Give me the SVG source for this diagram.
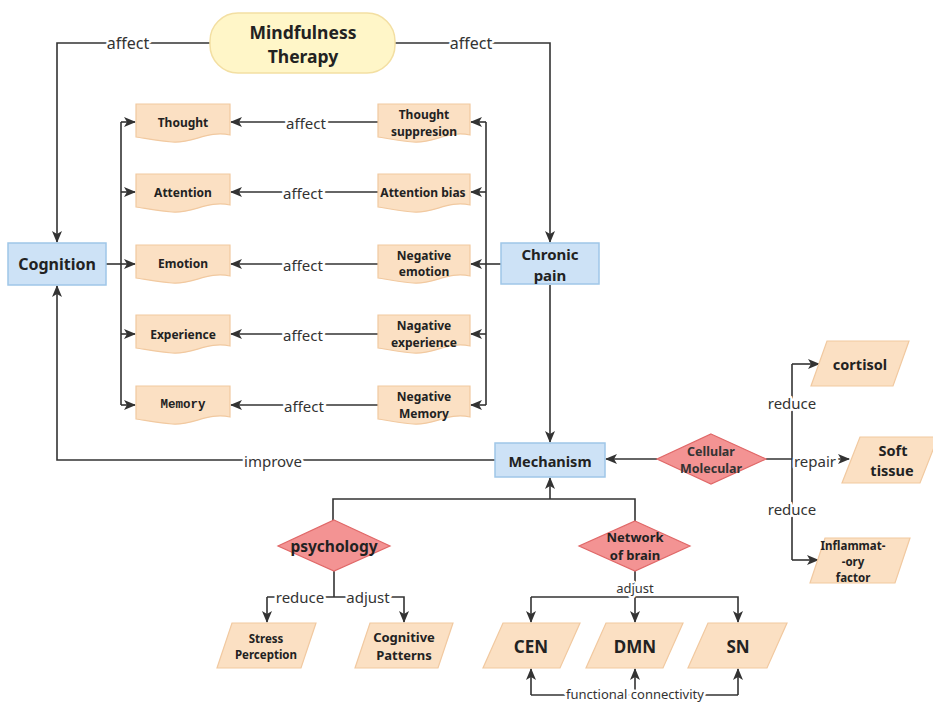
<svg xmlns="http://www.w3.org/2000/svg" xmlns:xlink="http://www.w3.org/1999/xlink" width="933" height="703" viewBox="0 0 933 703">
<style>
.t{font-family:"Noto Sans","Liberation Sans",sans-serif;font-weight:bold;fill:#222;text-anchor:middle;dominant-baseline:central}
.lbl{font-family:"Noto Sans","Liberation Sans",sans-serif;fill:#333;text-anchor:middle;dominant-baseline:central;stroke:#fff;stroke-width:5;paint-order:stroke;stroke-linejoin:round}
.ln{fill:none;stroke:#333;stroke-width:1.6}
.ar{fill:none;stroke:#333;stroke-width:1.6;marker-end:url(#ah)}
.doc{fill:#fbe0c3;stroke:#f1c9a0;stroke-width:1.2}
.par{fill:#fbe0c3;stroke:#f1c9a0;stroke-width:1.2}
.blue{fill:#cde2f6;stroke:#9fc6e8;stroke-width:1.5}
.dia{fill:#f39393;stroke:#e06868;stroke-width:1.2}
</style>
<defs>
<marker id="ah" viewBox="0 0 12 10" refX="11" refY="5" markerWidth="12" markerHeight="10" markerUnits="userSpaceOnUse" orient="auto">
<path d="M0,0 L12,5 L0,10 L3,5 Z" fill="#333"/>
</marker>
<path id="docL" d="M0,0 H94 V31 C72,26 56,40 36,38 C20,37 8,34 0,33 Z"/>
<path id="docR" d="M0,0 H92 V31 C70,26 55,40 35,38 C20,37 8,34 0,33 Z"/>
</defs>

<g id="connectors">
<path class="ar" d="M210,43 H57 V242"/>
<path class="ar" d="M395,43 H550 V242"/>
<path class="ln" d="M106,264 H121"/>
<path class="ln" d="M121,122 V405"/>
<path class="ar" d="M121,122 H135"/>
<path class="ar" d="M121,192 H135"/>
<path class="ar" d="M121,264 H135"/>
<path class="ar" d="M121,334 H135"/>
<path class="ar" d="M121,405 H135"/>
<path class="ln" d="M501,264 H486"/>
<path class="ln" d="M486,122 V405"/>
<path class="ar" d="M486,122 H471"/>
<path class="ar" d="M486,192 H471"/>
<path class="ar" d="M486,264 H471"/>
<path class="ar" d="M486,334 H471"/>
<path class="ar" d="M486,405 H471"/>
<path class="ar" d="M378,122 H231"/>
<path class="ar" d="M378,192 H231"/>
<path class="ar" d="M378,264 H231"/>
<path class="ar" d="M378,334 H231"/>
<path class="ar" d="M378,405 H231"/>
<path class="ar" d="M550,285 V442"/>
<path class="ar" d="M495,460 H57 V286"/>
<path class="ar" d="M657,459 H606"/>
<path class="ar" d="M766,459 H849"/>
<path class="ln" d="M792,364 V560"/>
<path class="ar" d="M792,364 H819"/>
<path class="ar" d="M792,560 H818"/>
<path class="ln" d="M333,520 V499 H635 V521"/>
<path class="ar" d="M550,499 V478"/>
<path class="ln" d="M334,571 V597"/>
<path class="ar" d="M267,597 V622"/>
<path class="ar" d="M267,597 H404 V622"/>
<path class="ln" d="M635,571 V597"/>
<path class="ar" d="M531,597 V622"/>
<path class="ar" d="M531,597 H738 V622"/>
<path class="ar" d="M635,597 V622"/>
<path class="ln" d="M531,695 H738"/>
<path class="ar" d="M531,695 V669"/>
<path class="ar" d="M635,695 V669"/>
<path class="ar" d="M738,695 V669"/>
<text class="lbl" x="128" y="43" font-size="16">affect</text>
<text class="lbl" x="471" y="43" font-size="16">affect</text>
<text class="lbl" x="306" y="123" font-size="15">affect</text>
<text class="lbl" x="303" y="193" font-size="15">affect</text>
<text class="lbl" x="303" y="265" font-size="15">affect</text>
<text class="lbl" x="303" y="335" font-size="15">affect</text>
<text class="lbl" x="304" y="406" font-size="15">affect</text>
<text class="lbl" x="273" y="461" font-size="15">improve</text>
<text class="lbl" x="792" y="403" font-size="15">reduce</text>
<text class="lbl" x="815" y="461" font-size="15">repair</text>
<text class="lbl" x="792" y="509" font-size="15">reduce</text>
<text class="lbl" x="300" y="597" font-size="15">reduce</text>
<text class="lbl" x="368" y="597" font-size="15">adjust</text>
<text class="lbl" x="635" y="588" font-size="13">adjust</text>
<text class="lbl" x="635" y="694" font-size="13">functional connectivity</text>
</g>

<g id="mindfulness">
<rect x="210" y="13" width="185" height="60" rx="28" fill="#fff6c8" stroke="#f3dfa2" stroke-width="1.5"/>
<text class="t" font-size="17.5"><tspan x="303" y="31.5">Mindfulness</tspan><tspan x="303" y="56">Therapy</tspan></text>
</g>

<g id="cognition">
<rect class="blue" x="8" y="243" width="98" height="42"/>
<text class="t" x="57" y="264" font-size="16">Cognition</text>
</g>

<g id="chronic-pain">
<rect class="blue" x="501" y="243" width="98" height="41"/>
<text class="t" font-size="15"><tspan x="550" y="254">Chronic</tspan><tspan x="550" y="274.5">pain</tspan></text>
</g>

<g id="thought"><use href="#docL" x="136" y="104" class="doc"/><text class="t" x="183" y="122" font-size="12">Thought</text></g>
<g id="attention"><use href="#docL" x="136" y="174" class="doc"/><text class="t" x="183" y="192" font-size="12">Attention</text></g>
<g id="emotion"><use href="#docL" x="136" y="245" class="doc"/><text class="t" x="183" y="263" font-size="12">Emotion</text></g>
<g id="experience"><use href="#docL" x="136" y="315" class="doc"/><text class="t" x="183" y="334" font-size="12">Experience</text></g>
<g id="memory"><use href="#docL" x="136" y="386" class="doc"/><text class="t" x="183" y="405" font-size="12.5" style="font-family:'Liberation Mono',monospace">Memory</text></g>

<g id="thought-suppresion"><use href="#docR" x="378" y="104" class="doc"/><text class="t" font-size="12"><tspan x="424" y="114">Thought</tspan><tspan x="424" y="130.5">suppresion</tspan></text></g>
<g id="attention-bias"><use href="#docR" x="378" y="174" class="doc"/><text class="t" x="423" y="192" font-size="12">Attention bias</text></g>
<g id="negative-emotion"><use href="#docR" x="378" y="245" class="doc"/><text class="t" font-size="12"><tspan x="424" y="254.5">Negative</tspan><tspan x="424" y="271">emotion</tspan></text></g>
<g id="negative-experience"><use href="#docR" x="378" y="315" class="doc"/><text class="t" font-size="12"><tspan x="424" y="325">Nagative</tspan><tspan x="424" y="341.5">experience</tspan></text></g>
<g id="negative-memory"><use href="#docR" x="378" y="386" class="doc"/><text class="t" font-size="12"><tspan x="424" y="396">Negative</tspan><tspan x="424" y="412.5">Memory</tspan></text></g>

<g id="mechanism">
<rect class="blue" x="495" y="443" width="110" height="34"/>
<text class="t" x="550" y="461" font-size="14.5">Mechanism</text>
</g>

<g id="cellular-molecular">
<polygon class="dia" points="711,434 766,459 711,484 657,459"/>
<text class="t" font-size="12.5" style="fill:#333"><tspan x="711" y="450.5">Cellular</tspan><tspan x="711" y="467.7">Molecular</tspan></text>
</g>

<g id="cortisol">
<polygon class="par" points="827,341 909,341 893,386 811,386"/>
<text class="t" x="860" y="364" font-size="14.5">cortisol</text>
</g>
<g id="soft-tissue">
<polygon class="par" points="860,437 938,437 920,483 842,483"/>
<text class="t" font-size="14.5"><tspan x="893" y="450">Soft</tspan><tspan x="892" y="470">tissue</tspan></text>
</g>
<g id="inflammatory-factor">
<polygon class="par" points="825,538 910,538 895,583 810,583"/>
<text class="t" font-size="11.5"><tspan x="853" y="545">Inflammat-</tspan><tspan x="853" y="561">-ory</tspan><tspan x="853" y="577">factor</tspan></text>
</g>

<g id="psychology">
<polygon class="dia" points="334,520 390,546 334,571 278,546"/>
<text class="t" x="334" y="546" font-size="15.5">psychology</text>
</g>
<g id="network-of-brain">
<polygon class="dia" points="635,521 690,546 635,571 579,546"/>
<text class="t" font-size="13"><tspan x="635" y="537">Network</tspan><tspan x="635" y="555">of brain</tspan></text>
</g>

<g id="stress-perception">
<polygon class="par" points="232,623 316,623 301,668 217,668"/>
<text class="t" font-size="11.5"><tspan x="266" y="637.5">Stress</tspan><tspan x="266" y="653.5">Perception</tspan></text>
</g>
<g id="cognitive-patterns">
<polygon class="par" points="370,623 453,623 438,668 355,668"/>
<text class="t" font-size="13"><tspan x="404" y="637">Cognitive</tspan><tspan x="404" y="655">Patterns</tspan></text>
</g>
<g id="cen">
<polygon class="par" points="503,623 580,623 560,668 483,668"/>
<text class="t" x="531" y="646" font-size="17">CEN</text>
</g>
<g id="dmn">
<polygon class="par" points="606,623 683,623 663,668 586,668"/>
<text class="t" x="635" y="646" font-size="17">DMN</text>
</g>
<g id="sn">
<polygon class="par" points="708,623 787,623 767,668 688,668"/>
<text class="t" x="738" y="646" font-size="17">SN</text>
</g>
</svg>
